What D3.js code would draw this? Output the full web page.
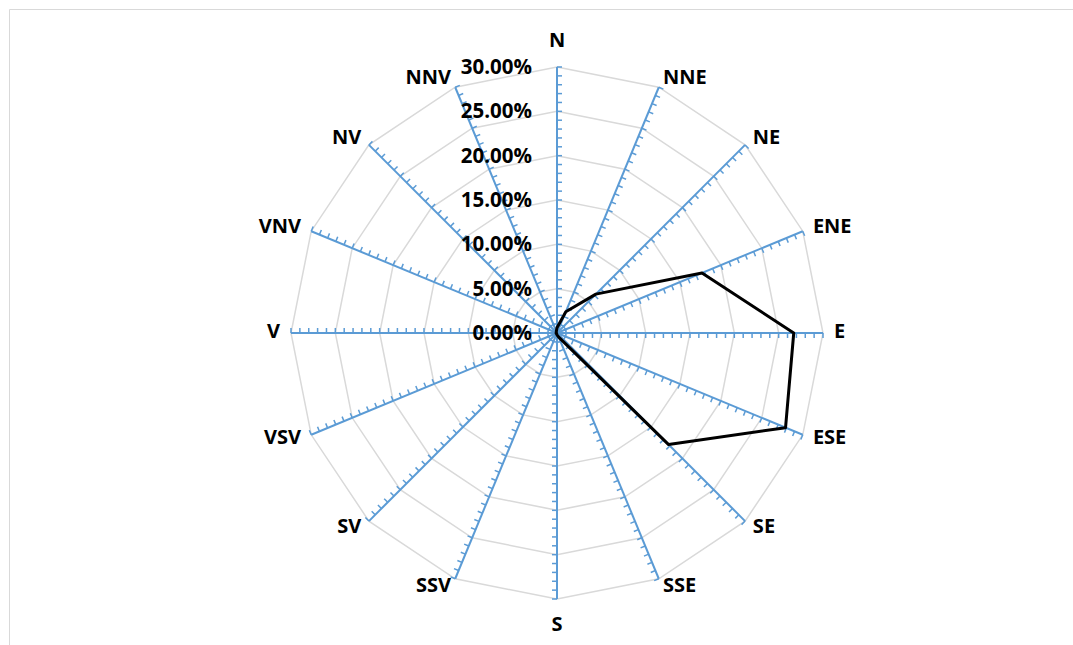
<!DOCTYPE html>
<html lang="en">
<head>
    <meta charset="UTF-8">
    <title>Wind rose</title>
    <style>
        body { margin: 0; background: #fff; }
        #chart-wrapper { width: 1073px; height: 645px; }
        text { font-family: "Open Sans", sans-serif; font-weight: bold; fill: #000; }
    </style>
</head>
<body>
    <div id="chart-wrapper"></div>

    <script src="https://d3js.org/d3.v7.min.js"></script>
    <script>
        // directions, clockwise from north (Romanian: V = west)
        const directions = ['N', 'NNE', 'NE', 'ENE', 'E', 'ESE', 'SE', 'SSE',
                            'S', 'SSV', 'SV', 'VSV', 'V', 'VNV', 'NV', 'NNV']
        // frequency per direction (share of time)
        const frequency = [0.006, 0.026, 0.062, 0.177, 0.267, 0.279, 0.178, 0.005,
                           0.002, 0.001, 0.001, 0.001, 0.001, 0.001, 0.001, 0.002]
        const tickValues = [0, 0.05, 0.10, 0.15, 0.20, 0.25, 0.30]

        const width = 1073
        const height = 645
        const cx = 557
        const cy = 333
        const radius = 266

        const svg = d3.select('#chart-wrapper')
            .append('svg')
            .attr('width', width)
            .attr('height', height)

        // chart frame
        svg.append('path')
            .attr('d', `M9.5,${height} L9.5,9.5 L${width},9.5`)
            .attr('fill', 'none')
            .attr('stroke', '#d9d9d9')
            .attr('stroke-width', 1)

        const g = svg.append('g')
            .attr('transform', `translate(${ cx }, ${ cy })`)

        const r = d3.scaleLinear()
            .domain([0, 0.30])
            .range([0, radius])

        const angle = d3.scaleLinear()
            .domain([0, directions.length])
            .range([0, 2 * Math.PI])

        // grid rings
        const ring = d3.lineRadial()
            .angle((d, i) => angle(i))
            .radius(d => d)
            .curve(d3.curveLinearClosed)

        g.append('g')
            .selectAll('path')
            .data(tickValues.slice(1))
            .enter()
            .append('path')
            .attr('d', v => ring(directions.map(() => r(v))))
            .attr('fill', 'none')
            .attr('stroke', '#d9d9d9')
            .attr('stroke-width', 1.5)

        // axes with minor ticks
        const minor = d3.range(1, 31).map(k => k / 100)
        const axes = g.append('g')
            .selectAll('g')
            .data(directions)
            .enter()
            .append('g')
            .attr('transform', (d, i) => `rotate(${ angle(i) * 180 / Math.PI })`)

        axes.append('line')
            .attr('x1', 0).attr('y1', 0)
            .attr('x2', 0).attr('y2', -r(0.30))
            .attr('stroke', '#5b9bd5')
            .attr('stroke-width', 2)

        axes.selectAll('line.tick')
            .data(minor)
            .enter()
            .append('line')
            .attr('class', 'tick')
            .attr('x1', 0).attr('y1', v => -r(v))
            .attr('x2', 5).attr('y2', v => -r(v))
            .attr('stroke', '#5b9bd5')
            .attr('stroke-width', 1.5)

        // value labels on the north axis
        g.append('g')
            .selectAll('text')
            .data(tickValues)
            .enter()
            .append('text')
            .attr('x', -25)
            .attr('y', v => -r(v) + 1.5)
            .attr('text-anchor', 'end')
            .attr('dominant-baseline', 'middle')
            .attr('font-size', 20.5)
            .text(v => d3.format('.2%')(v))

        // direction labels, placed just outside the end of each axis
        g.append('g')
            .selectAll('text')
            .data(directions)
            .enter()
            .append('text')
            .each(function (d, i) {
                const a = angle(i)
                const s = Math.sin(a)
                const c = Math.cos(a)
                const ex = radius * s
                const ey = -radius * c
                const t = d3.select(this)
                if (Math.abs(s) < 0.01) {
                    t.attr('x', ex)
                        .attr('y', c > 0 ? ey - 25 : ey + 27)
                        .attr('text-anchor', 'middle')
                } else {
                    t.attr('x', ex + 11 * s)
                        .attr('y', ey - 9 * c)
                        .attr('text-anchor', s > 0 ? 'start' : 'end')
                }
            })
            .attr('dominant-baseline', 'middle')
            .attr('font-size', 20)
            .text(d => d)

        // data polygon
        const line = d3.lineRadial()
            .angle((d, i) => angle(i))
            .radius(d => r(d))
            .curve(d3.curveLinearClosed)

        g.append('path')
            .datum(frequency)
            .attr('d', line)
            .attr('fill', 'none')
            .attr('stroke', '#000')
            .attr('stroke-width', 3)
            .attr('stroke-linejoin', 'round')
    </script>
</body>
</html>
